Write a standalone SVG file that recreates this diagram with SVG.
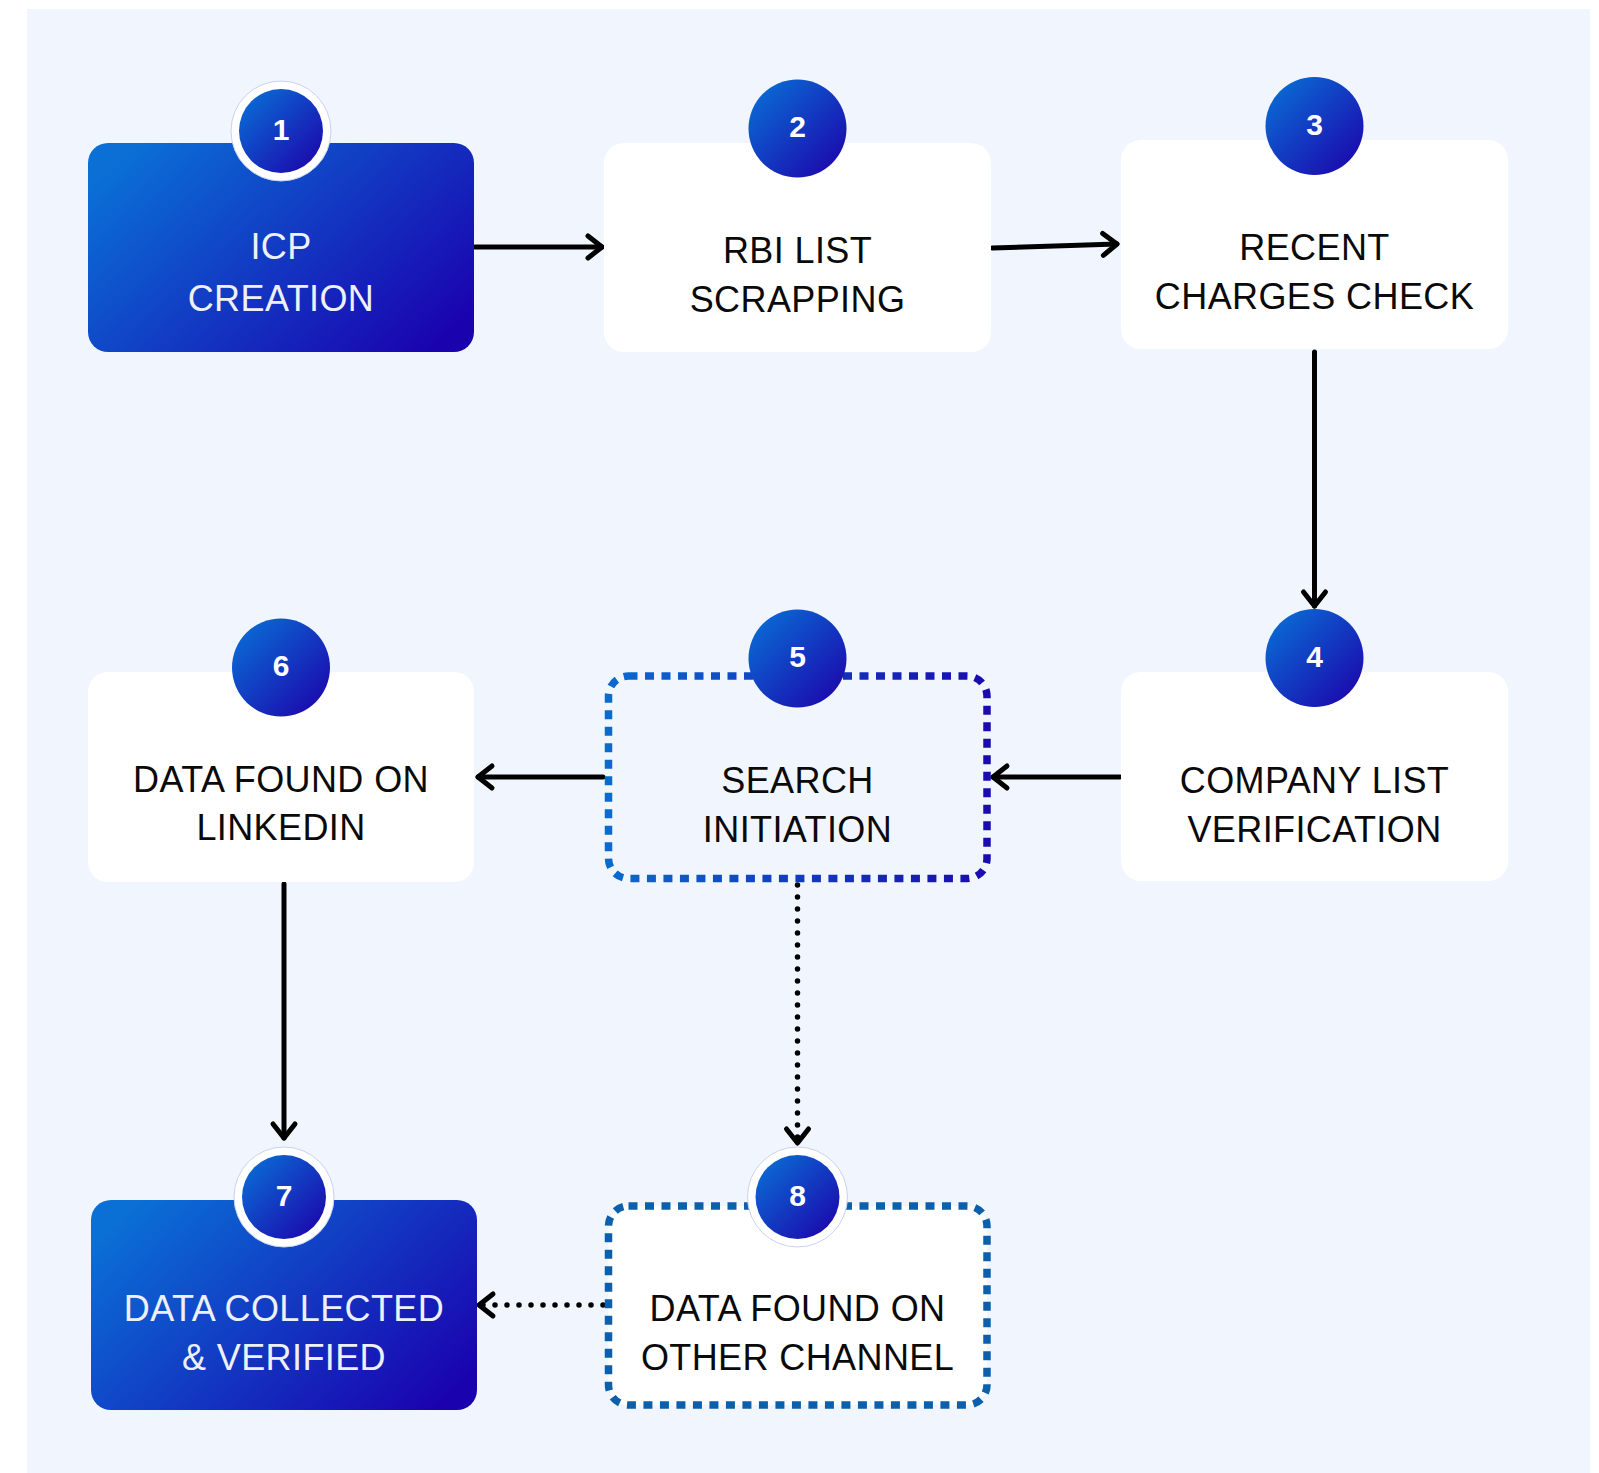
<svg xmlns="http://www.w3.org/2000/svg" width="1599" height="1473" viewBox="0 0 1599 1473">
<style>
.t{font-family:"Liberation Sans",Arial,sans-serif;font-size:36px;text-anchor:middle;fill:#0a0a0a;letter-spacing:0.4px}
.tw{fill:#eef0f8}
.num{font-family:"Liberation Sans",Arial,sans-serif;font-size:30px;font-weight:bold;text-anchor:middle;fill:#ffffff}
.box{fill:#ffffff}
.gbox{fill:url(#gBox)}
.circ{fill:url(#gCirc)}
.ring{fill:#ffffff;stroke:#c9d1f3;stroke-width:1}
.dash5{fill:none;stroke:url(#gDash);stroke-width:7.5;stroke-dasharray:9 7.5}
.dash8{fill:#ffffff;stroke:#0c5faa;stroke-width:7.5;stroke-dasharray:9 7.5}
.con{fill:none;stroke:#000;stroke-width:5;stroke-linecap:round;marker-end:url(#arr)}
.dot{fill:none;stroke:#000;stroke-width:5.5;stroke-linecap:round;stroke-dasharray:0 12;marker-end:url(#arr)}
</style>
<defs>
<linearGradient id="gBox" x1="0" y1="0.2" x2="1" y2="0.8">
<stop offset="0" stop-color="#0a70d6"/>
<stop offset="1" stop-color="#1a03af"/>
</linearGradient>
<linearGradient id="gCirc" x1="0.15" y1="0.15" x2="0.85" y2="0.85">
<stop offset="0" stop-color="#0b63d1"/>
<stop offset="1" stop-color="#1a10b0"/>
</linearGradient>
<linearGradient id="gDash" x1="0" y1="0" x2="1" y2="0">
<stop offset="0" stop-color="#0a6ad0"/>
<stop offset="1" stop-color="#1a0bb0"/>
</linearGradient>
<marker id="arr" markerUnits="userSpaceOnUse" markerWidth="40" markerHeight="40" viewBox="-20 -20 40 40" refX="0" refY="0" orient="auto" overflow="visible">
<path d="M -14 -11 L 0 0 L -14 11" fill="none" stroke="#000" stroke-width="5" stroke-linecap="round" stroke-linejoin="round"/>
</marker>
</defs>
<rect x="0" y="0" width="1599" height="1473" fill="#ffffff"/>
<rect x="27" y="9" width="1563" height="1464" fill="#f1f6fe"/>

<g id="connectors">
<line class="con" x1="475" y1="247" x2="602" y2="247"/>
<line class="con" x1="992" y1="248" x2="1117" y2="244"/>
<line class="con" x1="1314.5" y1="352" x2="1314.5" y2="606"/>
<line class="con" x1="1120" y1="777" x2="993" y2="777"/>
<line class="con" x1="603" y1="777" x2="478" y2="777"/>
<line class="con" x1="284" y1="884" x2="284" y2="1138"/>
<line class="dot" x1="797.5" y1="885" x2="797.5" y2="1143"/>
<line class="dot" x1="603" y1="1305" x2="479" y2="1305"/>
</g>

<g id="node1">
<rect class="gbox" x="88" y="143" width="386" height="209" rx="20"/>
<circle class="ring" cx="281" cy="131" r="50"/>
<circle class="circ" cx="281" cy="131" r="42"/>
<text class="num" x="281" y="139.5">1</text>
<text class="t tw" x="281" y="259">ICP</text>
<text class="t tw" x="281" y="311">CREATION</text>
</g>

<g id="node2">
<rect class="box" x="604" y="143" width="387" height="209" rx="20"/>
<circle class="circ" cx="797.5" cy="128.5" r="49"/>
<text class="num" x="797.5" y="137">2</text>
<text class="t" x="797.5" y="263">RBI LIST</text>
<text class="t" x="797.5" y="312">SCRAPPING</text>
</g>

<g id="node3">
<rect class="box" x="1121" y="140" width="387" height="209" rx="20"/>
<circle class="circ" cx="1314.5" cy="126" r="49"/>
<text class="num" x="1314.5" y="134.5">3</text>
<text class="t" x="1314.5" y="260">RECENT</text>
<text class="t" x="1314.5" y="309">CHARGES CHECK</text>
</g>

<g id="node4">
<rect class="box" x="1121" y="672" width="387" height="209" rx="20"/>
<circle class="circ" cx="1314.5" cy="658" r="49"/>
<text class="num" x="1314.5" y="666.5">4</text>
<text class="t" x="1314.5" y="793">COMPANY LIST</text>
<text class="t" x="1314.5" y="842">VERIFICATION</text>
</g>

<g id="node5">
<rect class="dash5" x="608.5" y="676" width="378.5" height="202.5" rx="20"/>
<circle class="circ" cx="797.5" cy="658.5" r="49"/>
<text class="num" x="797.5" y="667">5</text>
<text class="t" x="797.5" y="793">SEARCH</text>
<text class="t" x="797.5" y="842">INITIATION</text>
</g>

<g id="node6">
<rect class="box" x="88" y="672" width="386" height="210" rx="20"/>
<circle class="circ" cx="281" cy="667.5" r="49"/>
<text class="num" x="281" y="676">6</text>
<text class="t" x="281" y="792">DATA FOUND ON</text>
<text class="t" x="281" y="840">LINKEDIN</text>
</g>

<g id="node7">
<rect class="gbox" x="91" y="1200" width="386" height="210" rx="20"/>
<circle class="ring" cx="284" cy="1197" r="50"/>
<circle class="circ" cx="284" cy="1197" r="42"/>
<text class="num" x="284" y="1205.5">7</text>
<text class="t tw" x="284" y="1321">DATA COLLECTED</text>
<text class="t tw" x="284" y="1370">&amp; VERIFIED</text>
</g>

<g id="node8">
<rect class="dash8" x="608.5" y="1206" width="378.5" height="199" rx="20"/>
<circle class="ring" cx="797.5" cy="1197" r="50"/>
<circle class="circ" cx="797.5" cy="1197" r="42"/>
<text class="num" x="797.5" y="1205.5">8</text>
<text class="t" x="797.5" y="1321">DATA FOUND ON</text>
<text class="t" x="797.5" y="1370">OTHER CHANNEL</text>
</g>
</svg>
